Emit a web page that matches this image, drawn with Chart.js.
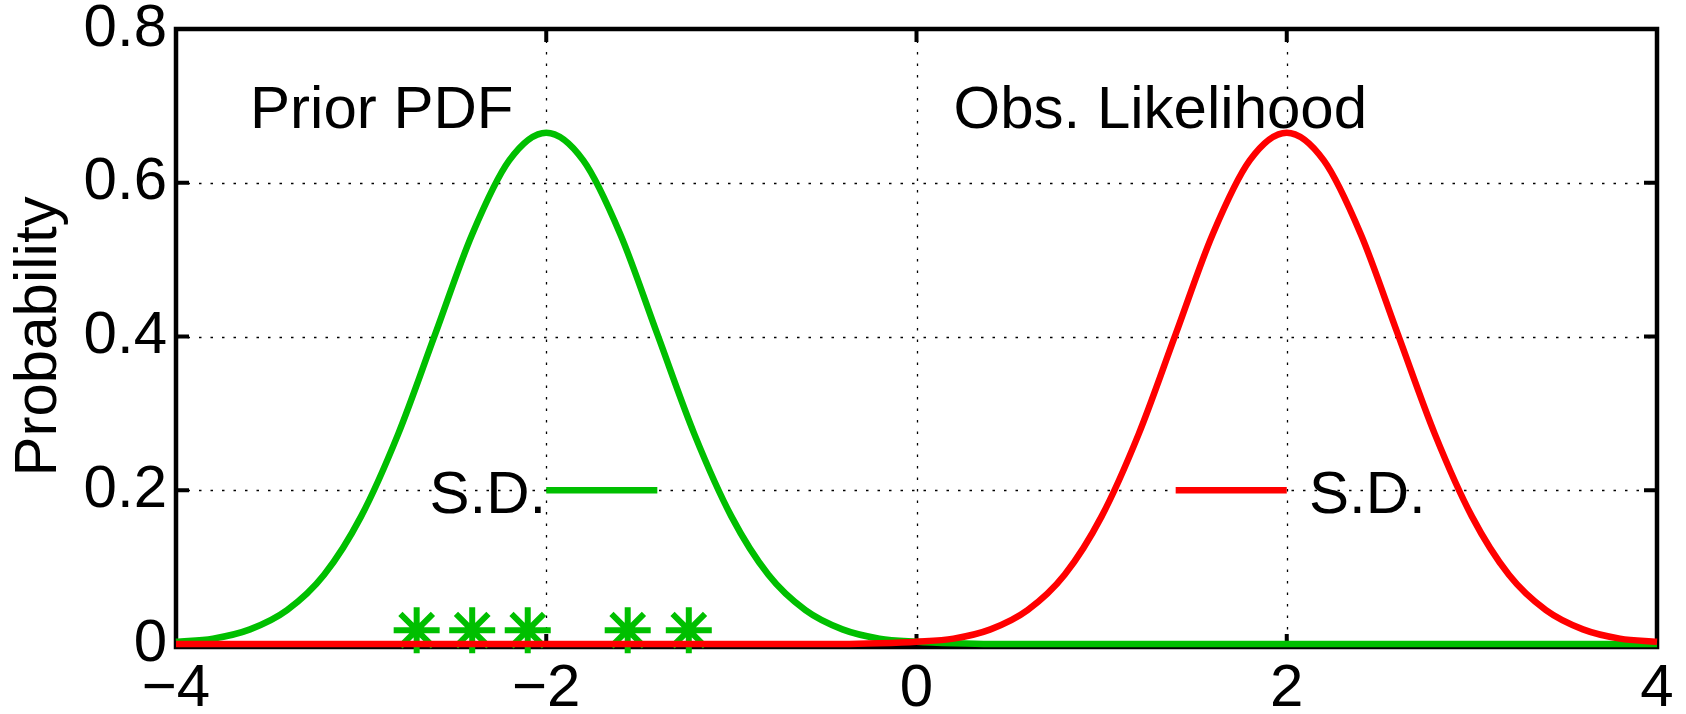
<!DOCTYPE html>
<html>
<head>
<meta charset="utf-8">
<script src="https://cdn.jsdelivr.net/npm/chart.js@4.4.0/dist/chart.umd.min.js"></script>
<style>
body { margin: 0; background: #fff; }
#wrap { width: 1686px; height: 714px; }
</style>
</head>
<body>
<div id="wrap"><canvas id="myChart" width="1686" height="714"></canvas></div>
<script>
// values
var xValues = [-4, -3.8, -3.6, -3.4, -3.2, -3, -2.8, -2.6, -2.4, -2.2, -2, -1.8, -1.6, -1.4, -1.2, -1, -0.8, -0.6, -0.4, -0.2,
               0, 0.2, 0.4, 0.6, 0.8, 1, 1.2, 1.4, 1.6, 1.8, 2, 2.2, 2.4, 2.6, 2.8, 3, 3.2, 3.4, 3.6, 3.8, 4];
var priorPdf = [0.003, 0.007, 0.019, 0.044, 0.090, 0.166, 0.273, 0.403, 0.533, 0.629, 0.665, 0.629, 0.533, 0.403, 0.273, 0.166, 0.090, 0.044, 0.019, 0.007,
                0.003, 0.001, 0, 0, 0, 0, 0, 0, 0, 0, 0, 0, 0, 0, 0, 0, 0, 0, 0, 0, 0];
var obsLikelihood = [0, 0, 0, 0, 0, 0, 0, 0, 0, 0, 0, 0, 0, 0, 0, 0, 0, 0, 0, 0.001,
                     0.003, 0.007, 0.019, 0.044, 0.090, 0.166, 0.273, 0.403, 0.533, 0.629, 0.665, 0.629, 0.533, 0.403, 0.273, 0.166, 0.090, 0.044, 0.019, 0.007, 0.003];

var ensembleX = [-2.70, -2.40, -2.10, -1.56, -1.23];
var ensembleY = [0.018, 0.018, 0.018, 0.018, 0.018];

var priorSdX = [-2, -1.4];
var priorSdY = [0.2, 0.2];
var obsSdX = [1.4, 2];
var obsSdY = [0.2, 0.2];

var xTickValues = [-4, -2, 0, 2, 4];
var xTickLabels = ['\u22124', '\u22122', '0', '2', '4'];
var yTickValues = [0, 0.2, 0.4, 0.6, 0.8];
var yTickLabels = ['0', '0.2', '0.4', '0.6', '0.8'];

var noteTexts = ['Prior PDF', 'Obs. Likelihood', 'S.D.', 'S.D.'];
var noteX = [-3.60, 0.20, -2.0, 2.12];
var noteY = [0.671, 0.671, 0.170, 0.170];
var noteAlign = ['left', 'left', 'right', 'left'];

var fontName = '"Liberation Sans", Arial, Helvetica, sans-serif';
var green = 'rgb(0,191,0)';
var red = 'rgb(255,0,0)';

function toPoints(xs, ys) {
    var pts = [];
    for (let i = 0; i < xs.length; i++) {
        pts.push({ x: xs[i], y: ys[i] });
    }
    return pts;
}

// dotted grid, box and inward ticks like the matlab axes
var framePlugin = {
    id: 'frame',
    beforeDatasetsDraw: function (chart) {
        var ctx = chart.ctx;
        var a = chart.chartArea;
        var xs = chart.scales.x;
        var ys = chart.scales.y;
        var bottom = a.bottom + 3;
        ctx.save();
        ctx.strokeStyle = '#000';
        ctx.lineWidth = 1.3;
        ctx.setLineDash([2.5, 9]);
        xTickValues.forEach(function (v) {
            if (v === xs.min || v === xs.max) return;
            var px = Math.round(xs.getPixelForValue(v)) + 0.5;
            ctx.beginPath();
            ctx.moveTo(px, a.top);
            ctx.lineTo(px, bottom);
            ctx.stroke();
        });
        yTickValues.forEach(function (v) {
            if (v === ys.min || v === ys.max) return;
            var py = Math.round(ys.getPixelForValue(v)) + 0.5;
            ctx.beginPath();
            ctx.moveTo(a.left, py);
            ctx.lineTo(a.right, py);
            ctx.stroke();
        });
        ctx.setLineDash([]);

        ctx.lineWidth = 4;
        var tl = 13;
        xTickValues.forEach(function (v) {
            var px = xs.getPixelForValue(v);
            ctx.beginPath();
            ctx.moveTo(px, bottom);
            ctx.lineTo(px, bottom - tl);
            ctx.moveTo(px, a.top);
            ctx.lineTo(px, a.top + tl);
            ctx.stroke();
        });
        yTickValues.forEach(function (v) {
            var py = ys.getPixelForValue(v);
            ctx.beginPath();
            ctx.moveTo(a.left, py);
            ctx.lineTo(a.left + tl, py);
            ctx.moveTo(a.right, py);
            ctx.lineTo(a.right - tl, py);
            ctx.stroke();
        });

        ctx.lineWidth = 4.5;
        ctx.strokeRect(a.left, a.top, a.right - a.left, bottom - a.top);
        ctx.restore();
    },
    afterDatasetsDraw: function (chart) {
        var ctx = chart.ctx;
        var xs = chart.scales.x;
        var ys = chart.scales.y;
        ctx.save();
        ctx.fillStyle = '#000';
        ctx.font = '60px ' + fontName;
        ctx.textBaseline = 'alphabetic';
        for (let i = 0; i < noteTexts.length; i++) {
            ctx.textAlign = noteAlign[i];
            ctx.fillText(noteTexts[i], xs.getPixelForValue(noteX[i]), ys.getPixelForValue(noteY[i]));
        }
        ctx.restore();
    }
};

var ctx = document.getElementById('myChart').getContext('2d');

var lineStyle = {
    showLine: true,
    pointRadius: 0,
    pointHoverRadius: 0,
    borderWidth: 6.5,
    fill: false,
    cubicInterpolationMode: 'monotone',
    clip: 10
};

var data = {
    datasets: [
        Object.assign({ label: 'Obs. Likelihood', data: toPoints(xValues, obsLikelihood), borderColor: red, order: 0 }, lineStyle),
        Object.assign({ label: 'Obs. S.D.', data: toPoints(obsSdX, obsSdY), borderColor: red, order: 0 }, lineStyle),
        {
            label: 'Ensemble',
            data: toPoints(ensembleX, ensembleY),
            showLine: false,
            pointStyle: 'star',
            pointRadius: 23,
            pointHoverRadius: 23,
            pointBorderWidth: 6,
            pointBorderColor: green,
            pointBackgroundColor: green,
            order: 1,
            clip: 10
        },
        Object.assign({ label: 'Prior PDF', data: toPoints(xValues, priorPdf), borderColor: green, order: 2 }, lineStyle),
        Object.assign({ label: 'Prior S.D.', data: toPoints(priorSdX, priorSdY), borderColor: green, order: 2 }, lineStyle)
    ]
};

var options = {
    responsive: false,
    animation: false,
    events: [],
    layout: { padding: { left: 0, right: 25, top: 28, bottom: 0 } },
    plugins: {
        legend: { display: false },
        tooltip: { enabled: false }
    },
    scales: {
        x: {
            type: 'linear',
            min: -4,
            max: 4,
            grid: { display: false, drawTicks: false },
            border: { display: false },
            afterBuildTicks: function (s) {
                s.ticks = xTickValues.map(function (v) { return { value: v }; });
            },
            afterFit: function (s) {
                s.height = 70;
                s.paddingLeft = 0;
                s.paddingRight = 0;
            },
            ticks: {
                color: '#000',
                font: { family: fontName, size: 60 },
                padding: 9,
                maxRotation: 0,
                autoSkip: false,
                callback: function (v) { return xTickLabels[xTickValues.indexOf(v)]; }
            }
        },
        y: {
            min: 0,
            max: 0.8,
            grid: { display: false, drawTicks: false },
            border: { display: false },
            afterBuildTicks: function (s) {
                s.ticks = yTickValues.map(function (v) { return { value: v }; });
            },
            afterFit: function (s) {
                s.width = 176;
                s.paddingTop = 0;
                s.paddingBottom = 0;
            },
            title: {
                display: true,
                text: 'Probability',
                color: '#000',
                font: { family: fontName, size: 60 },
                padding: { top: 3, bottom: 0 }
            },
            ticks: {
                color: '#000',
                font: { family: fontName, size: 60 },
                padding: 9,
                autoSkip: false,
                callback: function (v) { return yTickLabels[yTickValues.indexOf(v)]; }
            }
        }
    }
};

var myChart = new Chart(ctx, {
    type: 'scatter',
    data: data,
    options: options,
    plugins: [framePlugin]
});
</script>
</body>
</html>
